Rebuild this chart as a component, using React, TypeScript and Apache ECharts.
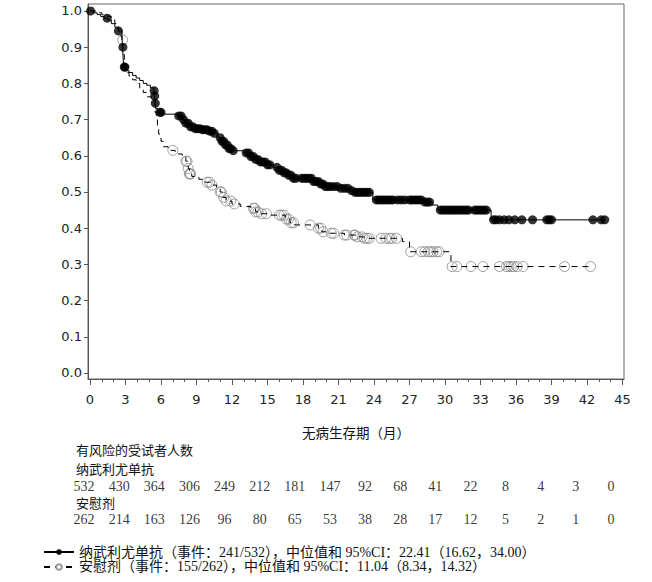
import React, { useEffect, useRef } from "react";
import * as echarts from "echarts";

// ---- axis ticks ----
const xTickValues = [0, 3, 6, 9, 12, 15, 18, 21, 24, 27, 30, 33, 36, 39, 42, 45];
const xMinorTickValues = [
  0, 1, 2, 3, 4, 5, 6, 7, 8, 9, 10, 11, 12, 13, 14, 15, 16, 17, 18, 19, 20, 21, 22,
  23, 24, 25, 26, 27, 28, 29, 30, 31, 32, 33, 34, 35, 36, 37, 38, 39, 40, 41, 42, 43, 44, 45,
];
const yTickValues = [0, 0.1, 0.2, 0.3, 0.4, 0.5, 0.6, 0.7, 0.8, 0.9, 1.0];

// ---- numbers at risk ----
const riskTimes = [0, 3, 6, 9, 12, 15, 18, 21, 24, 27, 30, 33, 36, 39, 42, 45];
const nivoAtRisk = [532, 430, 364, 306, 249, 212, 181, 147, 92, 68, 41, 22, 8, 4, 3, 0];
const placeboAtRisk = [262, 214, 163, 126, 96, 80, 65, 53, 38, 28, 17, 12, 5, 2, 1, 0];

// ---- Kaplan-Meier: nivolumab (event times / survival after event) ----
const nivoEventTimes = [
  0.3, 0.6, 0.9, 1.2, 1.5, 1.8, 2.1, 2.4, 2.7, 2.75, 2.8, 2.85, 3.0, 3.3, 3.6, 3.9, 4.2, 4.5,
  4.8, 5.1, 5.4, 5.45, 5.5, 5.55, 5.7, 6.2, 7.4, 7.8, 8.1, 8.5, 8.9, 9.5, 10.0, 10.4, 10.8,
  11.1, 11.4, 11.7, 12.0, 13.0, 13.5, 14.0, 14.4, 14.9, 15.5, 16.0, 16.4, 16.7, 17.1, 18.8,
  19.4, 19.9, 21.1, 21.9, 22.3, 23.9, 28.1, 28.9, 29.4, 33.9,
];
const nivoEventSurv = [
  0.995, 0.99, 0.985, 0.98, 0.975, 0.965, 0.955, 0.945, 0.93, 0.9, 0.87, 0.845, 0.835, 0.83,
  0.822, 0.815, 0.808, 0.8, 0.795, 0.788, 0.78, 0.765, 0.745, 0.73, 0.72, 0.715, 0.71, 0.7,
  0.69, 0.68, 0.675, 0.672, 0.668, 0.662, 0.65, 0.64, 0.63, 0.62, 0.614, 0.608, 0.598, 0.59,
  0.583, 0.575, 0.568, 0.56, 0.553, 0.546, 0.538, 0.529, 0.522, 0.515, 0.51, 0.504, 0.499,
  0.478, 0.472, 0.464, 0.45, 0.423,
];
const nivoCensorTimes = [
  0.05, 1.45, 2.4, 2.78, 2.9, 2.95, 5.42, 5.47, 5.52, 5.9, 6.0,
  7.5, 7.7, 7.9, 8.1, 8.3, 8.5, 8.7, 8.9, 9.1, 9.3, 9.5, 9.7, 9.9, 10.1, 10.3, 10.5,
  11.0, 11.15, 11.3, 11.45, 11.6, 11.75, 11.9, 12.1,
  13.2, 13.4, 13.6, 13.8, 14.0, 14.2, 14.4, 14.6, 14.8, 15.0, 15.2,
  15.8, 16.0, 16.2, 16.4, 16.6, 16.8, 17.0, 17.2, 17.4,
  17.9, 18.1, 18.3, 18.5, 18.7, 18.9, 19.1, 19.3, 19.5, 19.7, 19.9, 20.1, 20.3,
  20.6, 20.9, 21.2, 21.5, 21.8, 22.1, 22.4, 22.6, 22.8, 23.0, 23.2, 23.4, 23.6,
  24.2, 24.4, 24.6, 24.8, 25.0, 25.2, 25.4, 25.6, 26.0, 26.3, 26.6, 27.0, 27.2, 27.4, 27.6,
  27.8, 28.0, 28.3, 28.5, 28.7,
  29.6, 29.8, 30.0, 30.2, 30.4, 30.6, 30.8, 31.0, 31.2, 31.4, 31.6, 31.8, 32.0, 32.5, 32.7,
  32.9, 33.1, 33.3, 33.5,
  34.1, 34.3, 34.6, 35.0, 35.4, 35.9, 36.5, 37.4, 38.6, 38.8, 39.0, 42.5, 43.2, 43.5,
];

// ---- Kaplan-Meier: placebo ----
const placeboEventTimes = [
  0.5, 1.0, 1.5, 1.8, 2.1, 2.4, 2.6, 2.7, 2.8, 2.9, 3.0, 3.3, 3.6, 3.9, 4.2, 4.5, 4.8, 5.2,
  5.5, 5.6, 5.7, 5.8, 6.0, 6.2, 6.6, 7.2, 7.8, 8.1, 8.3, 8.4, 8.6, 9.2, 9.6, 10.2, 10.7, 11.0,
  11.2, 11.5, 12.0, 12.7, 13.6, 14.0, 14.3, 15.3, 16.5, 16.9, 17.3, 19.3, 19.6, 20.2, 21.5,
  22.5, 23.2, 26.4, 27.0, 30.5,
];
const placeboEventSurv = [
  0.995, 0.99, 0.985, 0.975, 0.965, 0.945, 0.93, 0.92, 0.88, 0.85, 0.83, 0.82, 0.81, 0.8,
  0.786, 0.775, 0.763, 0.754, 0.72, 0.7, 0.68, 0.66, 0.64, 0.625, 0.615, 0.605, 0.598, 0.585,
  0.565, 0.55, 0.543, 0.535, 0.527, 0.519, 0.51, 0.5, 0.485, 0.475, 0.467, 0.46, 0.455, 0.445,
  0.44, 0.436, 0.425, 0.415, 0.409, 0.4, 0.39, 0.386, 0.381, 0.376, 0.372, 0.363, 0.335, 0.294,
];
const placeboCensorTimes = [
  2.76, 7.0, 8.1, 8.2, 8.3, 8.4, 8.45, 8.5, 9.9, 10.1, 10.3, 11.0, 11.1, 11.3, 11.5, 11.9,
  12.2, 13.8, 13.9, 14.0, 14.2, 14.5, 14.9, 16.0, 16.2, 16.4, 16.6, 16.8, 17.0, 17.2, 18.6,
  19.3, 19.5, 19.7, 20.4, 20.6, 21.5, 21.7, 22.3, 22.4, 22.6, 23.0, 23.2, 23.4, 23.6, 24.6,
  25.0, 25.3, 25.5, 25.9, 27.1, 28.0, 28.3, 28.6, 28.8, 29.0, 29.3, 29.5, 30.6, 31.0, 32.2,
  33.2, 34.6, 35.2, 35.4, 35.6, 35.8, 36.1, 36.6, 40.1, 42.3,
];

const nivoName = "纳武利尤单抗（事件：241/532），中位值和 95%CI：22.41（16.62，34.00）";
const placeboName = "安慰剂（事件：155/262），中位值和 95%CI：11.04（8.34，14.32）";

function kmPath(times: number[], surv: number[], end: number): number[][] {
  const pts: number[][] = [[0, 1]];
  let s = 1;
  for (let i = 0; i < times.length; i++) {
    pts.push([times[i], s]);
    pts.push([times[i], surv[i]]);
    s = surv[i];
  }
  pts.push([end, s]);
  return pts;
}

function survAt(times: number[], surv: number[], t: number): number {
  let s = 1;
  for (let i = 0; i < times.length; i++) {
    if (times[i] <= t) s = surv[i];
  }
  return s;
}

const SERIF = '"Liberation Serif", "Noto Sans CJK SC", serif';
const CJK = '"Noto Sans CJK SC", sans-serif';
const SANS = '"DejaVu Sans", sans-serif';

export default function App() {
  const ref = useRef<HTMLDivElement>(null);
  useEffect(() => {
    document.body.style.margin = "0";
    if (!ref.current) return;
    const chart = echarts.init(ref.current, null, { renderer: "svg" });

    const nivoEnd = Math.max(...nivoCensorTimes);
    const placeboEnd = Math.max(...placeboCensorTimes);

    const X_MIN = -0.169;
    const X_MAX = 45.127;
    const Y_MIN = -0.0166;
    const Y_MAX = 1.0193;

    const riskLabel = {
      show: true,
      position: "inside",
      formatter: (p: any) => String(p.value[2]),
      fontFamily: SERIF,
      fontSize: 14,
      color: "#000",
    };

    const option: any = {
      animation: false,
      backgroundColor: "#fff",
      grid: [
        { left: 88, top: 4, width: 536, height: 375, show: true, borderColor: "#666", borderWidth: 1, backgroundColor: "transparent" },
        { left: 84, top: 470, width: 527, height: 66, show: false },
      ],
      legend: {
        orient: "vertical",
        left: 38,
        top: 540,
        itemWidth: 30,
        itemHeight: 7,
        itemGap: 1,
        data: [nivoName, placeboName],
        textStyle: { fontFamily: SERIF, fontSize: 14, color: "#111" },
      },
      xAxis: [
        {
          gridIndex: 0,
          type: "value",
          min: X_MIN,
          max: X_MAX,
          position: "bottom",
          axisLine: { show: true, onZero: false, lineStyle: { color: "#555", width: 1 } },
          axisTick: { show: true, customValues: xTickValues, length: 6, lineStyle: { color: "#555" } },
          axisLabel: { customValues: xTickValues, margin: 14, fontSize: 13, fontFamily: SANS, color: "#222" },
          splitLine: { show: false },
          name: "无病生存期（月）",
          nameLocation: "middle",
          nameGap: 46,
          nameTextStyle: { fontFamily: CJK, fontSize: 13.5, color: "#111" },
        },
        {
          gridIndex: 0,
          type: "value",
          min: X_MIN,
          max: X_MAX,
          position: "bottom",
          axisLine: { show: false, onZero: false },
          axisTick: { show: true, customValues: xMinorTickValues, length: 3, lineStyle: { color: "#555" } },
          axisLabel: { show: false },
          splitLine: { show: false },
        },
        { gridIndex: 1, type: "value", min: 0, max: 45, show: false },
      ],
      yAxis: [
        {
          gridIndex: 0,
          type: "value",
          min: Y_MIN,
          max: Y_MAX,
          axisLine: { show: true, onZero: false, lineStyle: { color: "#555", width: 1 } },
          axisTick: { show: true, customValues: yTickValues, length: 4, lineStyle: { color: "#555" } },
          axisLabel: {
            customValues: yTickValues,
            formatter: (v: number) => v.toFixed(1),
            margin: 6,
            fontSize: 13,
            fontFamily: SANS,
            color: "#222",
          },
          splitLine: { show: false },
        },
        { gridIndex: 1, type: "category", data: ["nivo", "placebo"], inverse: true, show: false },
      ],
      graphic: [
        { type: "text", left: 76, top: 443, style: { text: "有风险的受试者人数", font: `13px ${CJK}`, lineHeight: 13, fill: "#111" } },
        { type: "text", left: 76, top: 462, style: { text: "纳武利尤单抗", font: `13px ${CJK}`, lineHeight: 13, fill: "#111" } },
        { type: "text", left: 76, top: 496, style: { text: "安慰剂", font: `13px ${CJK}`, lineHeight: 13, fill: "#111" } },
      ],
      series: [
        {
          name: "placebo-censor",
          type: "scatter",
          xAxisIndex: 0,
          yAxisIndex: 0,
          symbol: "circle",
          symbolSize: 10,
          z: 2,
          itemStyle: { color: "rgba(255,255,255,0)", borderColor: "#888", borderWidth: 1 },
          data: placeboCensorTimes.map((t) => [t, survAt(placeboEventTimes, placeboEventSurv, t)]),
          silent: true,
        },
        {
          name: placeboName,
          type: "line",
          xAxisIndex: 0,
          yAxisIndex: 0,
          showSymbol: false,
          symbol: "circle",
          symbolSize: 5,
          z: 3,
          itemStyle: { color: "#fff", borderColor: "#999", borderWidth: 1 },
          lineStyle: { color: "#000", width: 1, type: [6, 5] },
          data: kmPath(placeboEventTimes, placeboEventSurv, placeboEnd),
          silent: true,
        },
        {
          name: nivoName,
          type: "line",
          xAxisIndex: 0,
          yAxisIndex: 0,
          showSymbol: false,
          symbol: "circle",
          symbolSize: 5,
          z: 3,
          itemStyle: { color: "#000" },
          lineStyle: { color: "#000", width: 1 },
          data: kmPath(nivoEventTimes, nivoEventSurv, nivoEnd),
          silent: true,
        },
        {
          name: "nivo-censor",
          type: "scatter",
          xAxisIndex: 0,
          yAxisIndex: 0,
          symbol: "circle",
          symbolSize: 9,
          z: 4,
          itemStyle: { color: "#000" },
          data: nivoCensorTimes.map((t) => [t, survAt(nivoEventTimes, nivoEventSurv, t)]),
          silent: true,
        },
        {
          name: "risk-nivo",
          type: "scatter",
          xAxisIndex: 2,
          yAxisIndex: 1,
          symbolSize: 1,
          itemStyle: { color: "rgba(0,0,0,0)" },
          label: riskLabel,
          data: riskTimes.map((t, i) => [t, 0, nivoAtRisk[i]]),
          silent: true,
        },
        {
          name: "risk-placebo",
          type: "scatter",
          xAxisIndex: 2,
          yAxisIndex: 1,
          symbolSize: 1,
          itemStyle: { color: "rgba(0,0,0,0)" },
          label: riskLabel,
          data: riskTimes.map((t, i) => [t, 1, placeboAtRisk[i]]),
          silent: true,
        },
      ],
    };

    chart.setOption(option);
    return () => chart.dispose();
  }, []);

  return <div ref={ref} style={{ width: 652, height: 582 }} />;
}
